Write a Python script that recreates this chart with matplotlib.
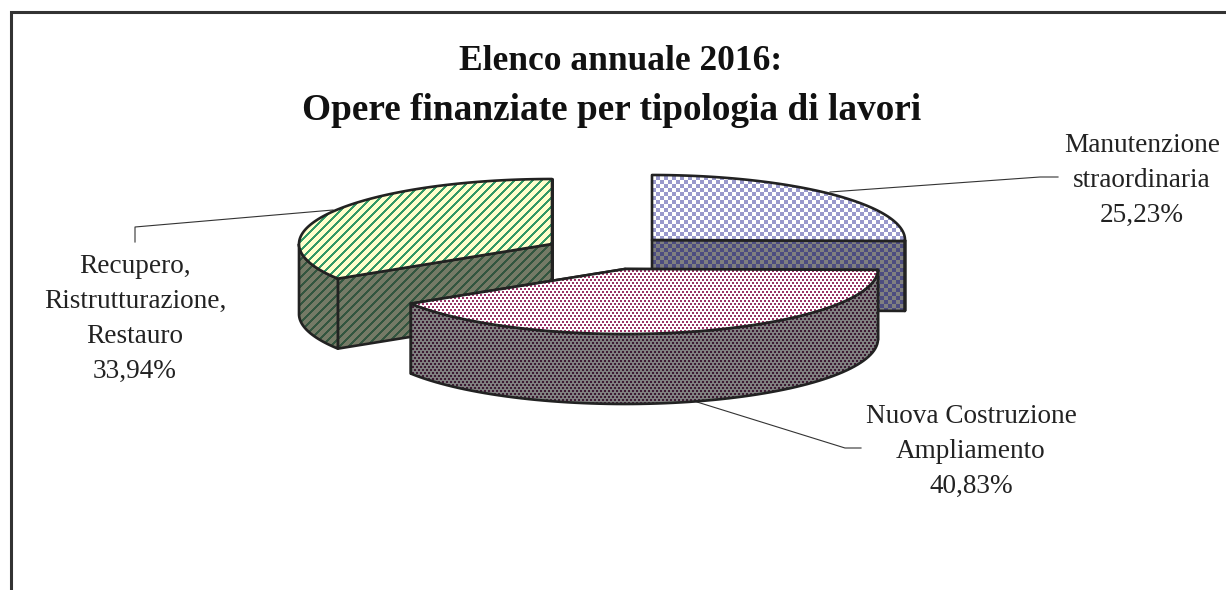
import matplotlib
matplotlib.use("Agg")
import matplotlib.pyplot as plt
import numpy as np
from matplotlib.patches import Polygon

# values in clockwise order starting from 12 o'clock
values = [25.23, 40.83, 33.94]
label_lines = [
    ["Manutenzione", "straordinaria"],
    ["Nuova Costruzione", "Ampliamento"],
    ["Recupero,", "Ristrutturazione,", "Restauro"],
]
title_lines = ["Elenco annuale 2016:", "Opere finanziate per tipologia di lavori"]

WIDTH, HEIGHT = 1226, 590
RX, RY, DEPTH = 253, 65, 70
centers = [(652, 240), (625, 269), (552, 244)]
draw_order = [0, 2, 1]

# (pattern, foreground, background) for top and side
top_styles = [("check", "#9999cc", "#ffffff"), ("dots", "#993366", "#ffffff"), ("stripe", "#339966", "#ffffcc")]
side_styles = [("check", "#4d4d80", "#808080"), ("dots", "#3d1a33", "#808080"), ("stripe", "#33553f", "#757a66")]

label_anchor = [(1142, 152), (971, 423), (135, 273)]
leaders = [
    ([830, 1040, 1058], [192, 177, 177]),
    ([697, 845, 861], [402, 448, 448]),
    ([333, 135, 135], [210, 227, 242]),
]


def hex_rgb(c):
    return np.array(matplotlib.colors.to_rgb(c))


def pattern_image(kind, fg, bg):
    yy, xx = np.mgrid[0:HEIGHT, 0:WIDTH]
    if kind == "check":
        mask = (xx // 4 + yy // 4) % 2 == 0
    elif kind == "dots":
        mask = (yy % 3 < 2) & ((xx + 2 * (yy // 3 % 2)) % 4 < 2)
    else:
        mask = (xx + yy) % 9 < 3
    img = np.zeros((HEIGHT, WIDTH, 3))
    img[mask] = hex_rgb(fg)
    img[~mask] = hex_rgb(bg)
    return img


def filled(ax, pts, style):
    poly = Polygon(pts, closed=True, facecolor="none", edgecolor="#222222", linewidth=1.9, joinstyle="round", zorder=3)
    ax.add_patch(poly)
    im = ax.imshow(pattern_image(*style), extent=(0, WIDTH, HEIGHT, 0), interpolation="nearest", aspect="auto", zorder=3)
    clip = Polygon(pts, closed=True, transform=ax.transData)
    im.set_clip_path(clip)
    return im, poly


def ellipse_xy(center, theta):
    return center[0] + RX * np.sin(theta), center[1] - RY * np.cos(theta)


fig = plt.figure(figsize=(WIDTH / 100, HEIGHT / 100), dpi=100)
ax = fig.add_axes([0, 0, 1, 1])
ax.set_xlim(0, WIDTH)
ax.set_ylim(HEIGHT, 0)
ax.axis("off")
plt.rcParams["font.family"] = ["Liberation Serif"]

# frame, only top and left are in the picture
ax.plot([11, 11, WIDTH], [HEIGHT, 12, 12], color="#333333", linewidth=2.2, solid_joinstyle="miter")

edges = np.cumsum([0] + values) / sum(values) * 2 * np.pi
z = 3
for i in draw_order:
    c = centers[i]
    t0, t1 = edges[i], edges[i + 1]
    artists = []
    # radial walls
    for t in (t0, t1):
        ex, ey = ellipse_xy(c, t)
        wall = [(c[0], c[1]), (ex, ey), (ex, ey + DEPTH), (c[0], c[1] + DEPTH)]
        artists.append(filled(ax, wall, side_styles[i]))
    # outer wall, only the part facing the viewer
    lo, hi = max(t0, np.pi / 2), min(t1, 1.5 * np.pi)
    if hi > lo:
        th = np.linspace(lo, hi, 80)
        x, y = ellipse_xy(c, th)
        wall = np.r_[np.c_[x, y], np.c_[x, y + DEPTH][::-1]]
        artists.append(filled(ax, wall, side_styles[i]))
    # top face
    th = np.linspace(t0, t1, 120)
    x, y = ellipse_xy(c, th)
    top = np.r_[[c], np.c_[x, y]]
    artists.append(filled(ax, top, top_styles[i]))
    for im, poly in artists:
        im.set_zorder(z)
        poly.set_zorder(z + 0.5)
        z += 1

ax.set_xlim(0, WIDTH)
ax.set_ylim(HEIGHT, 0)

for (lx, ly) in leaders:
    ax.plot(lx, ly, color="#333333", linewidth=0.8, zorder=2)

for lines, value, (ax_x, ax_y) in zip(label_lines, values, label_anchor):
    pct = f"{value:.2f}%".replace(".", ",")
    for n, line in enumerate(lines + [pct]):
        ax.text(ax_x, ax_y + 35 * n, line, ha="center", va="baseline", fontsize=19.6, color="#222222", family="Liberation Serif")

ax.text(621, 70, title_lines[0], ha="center", va="baseline", fontsize=25.5, fontweight="bold", color="#111111", family="Liberation Serif")
ax.text(612, 120, title_lines[1], ha="center", va="baseline", fontsize=26.8, fontweight="bold", color="#111111", family="Liberation Serif")

fig.savefig("out.png", dpi=100)
plt.close(fig)
